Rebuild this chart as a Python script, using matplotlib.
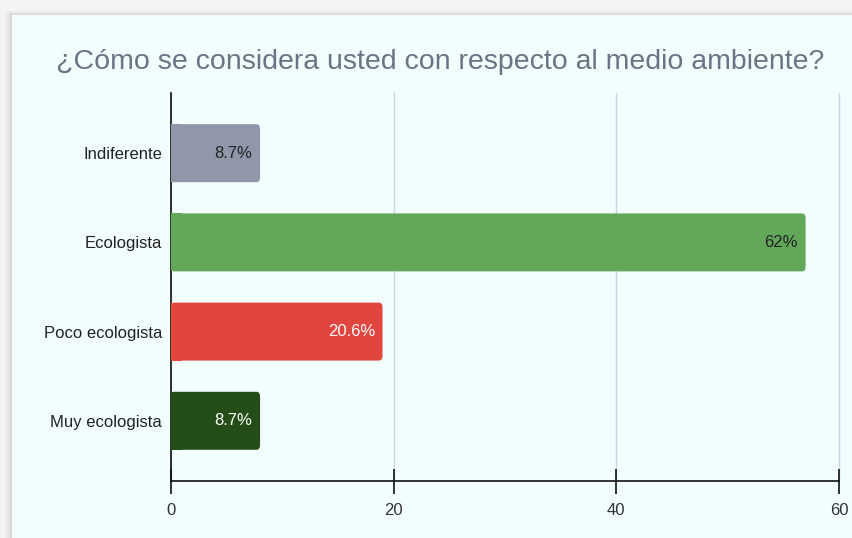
import matplotlib.pyplot as plt
from matplotlib.patches import Rectangle, FancyBboxPatch

plt.rcParams['font.family'] = ['Liberation Sans', 'DejaVu Sans']

categories = ['Indiferente', 'Ecologista', 'Poco ecologista', 'Muy ecologista']
counts = [8, 57, 19, 8]
pct_labels = ['8.7%', '62%', '20.6%', '8.7%']
colors = ['#8f97a9', '#63a85a', '#e0453f', '#244d18']
label_colors = ['#222222', '#222222', '#ffffff', '#ffffff']

fig = plt.figure(figsize=(8.53, 5.38), dpi=100)
fig.patch.set_facecolor('#f3f3f3')

# card with soft shadow
for i, a in enumerate([0.02, 0.025, 0.03, 0.035]):
    d = (4 - i) * 0.002
    fig.patches.append(Rectangle((12 / 853 - d, 0), 1.2, 1 - 15 / 538 + d,
                                 transform=fig.transFigure, color='#000000',
                                 alpha=a, lw=0, zorder=0))
fig.patches.append(Rectangle((12 / 853, 0), 1.2, 1 - 15 / 538,
                             transform=fig.transFigure, color='#f2fdfd',
                             lw=0, zorder=1))

ax = fig.add_axes([171 / 853, 1 - 481 / 538, (839 - 171) / 853, (481 - 93) / 538])
ax.set_zorder(5)
ax.set_facecolor('none')

ypos = list(range(len(categories)))
bars = ax.barh(ypos, counts, height=0.65, color=colors, zorder=3)

# rounded corners
for b, c in zip(bars, colors):
    b.set_visible(False)
    p = FancyBboxPatch((b.get_x(), b.get_y()), b.get_width(), b.get_height(),
                       boxstyle='round,pad=0,rounding_size=0.3',
                       mutation_aspect=0.2, fc=c, ec='none', zorder=3)
    ax.add_patch(p)
    # keep left edge square against the axis
    ax.add_patch(Rectangle((0, b.get_y()), min(1, b.get_width()), b.get_height(),
                           fc=c, ec='none', zorder=3))

for y, v, t, tc in zip(ypos, counts, pct_labels, label_colors):
    ax.annotate(t, (v, y), xytext=(-5.5, 0), textcoords='offset points',
                ha='right', va='center', fontsize=12, color=tc, zorder=4)

ax.set_xlim(0, 60)
ax.set_ylim(3.675, -0.675)
ax.set_xticks([0, 20, 40, 60])
ax.set_yticks(ypos)
ax.set_yticklabels(categories)
ax.xaxis.grid(True, color='#c9d5e2', lw=1, zorder=0, clip_on=False)
ax.set_axisbelow(True)

for s in ['top', 'right']:
    ax.spines[s].set_visible(False)
for s in ['left', 'bottom']:
    ax.spines[s].set_color('#111111')
    ax.spines[s].set_linewidth(1.2)

ax.tick_params(axis='x', direction='inout', length=18, width=1.2, color='#111111',
               labelsize=12, labelcolor='#333333', pad=7)
ax.tick_params(axis='y', length=0, labelsize=12, labelcolor='#222222', pad=6.5)

fig.text(440 / 853, 1 - 62 / 538, '¿Cómo se considera usted con respecto al medio ambiente?',
         ha='center', va='center', fontsize=20.5, color='#6b7386')

fig.savefig('out.png', dpi=100, facecolor=fig.get_facecolor())
